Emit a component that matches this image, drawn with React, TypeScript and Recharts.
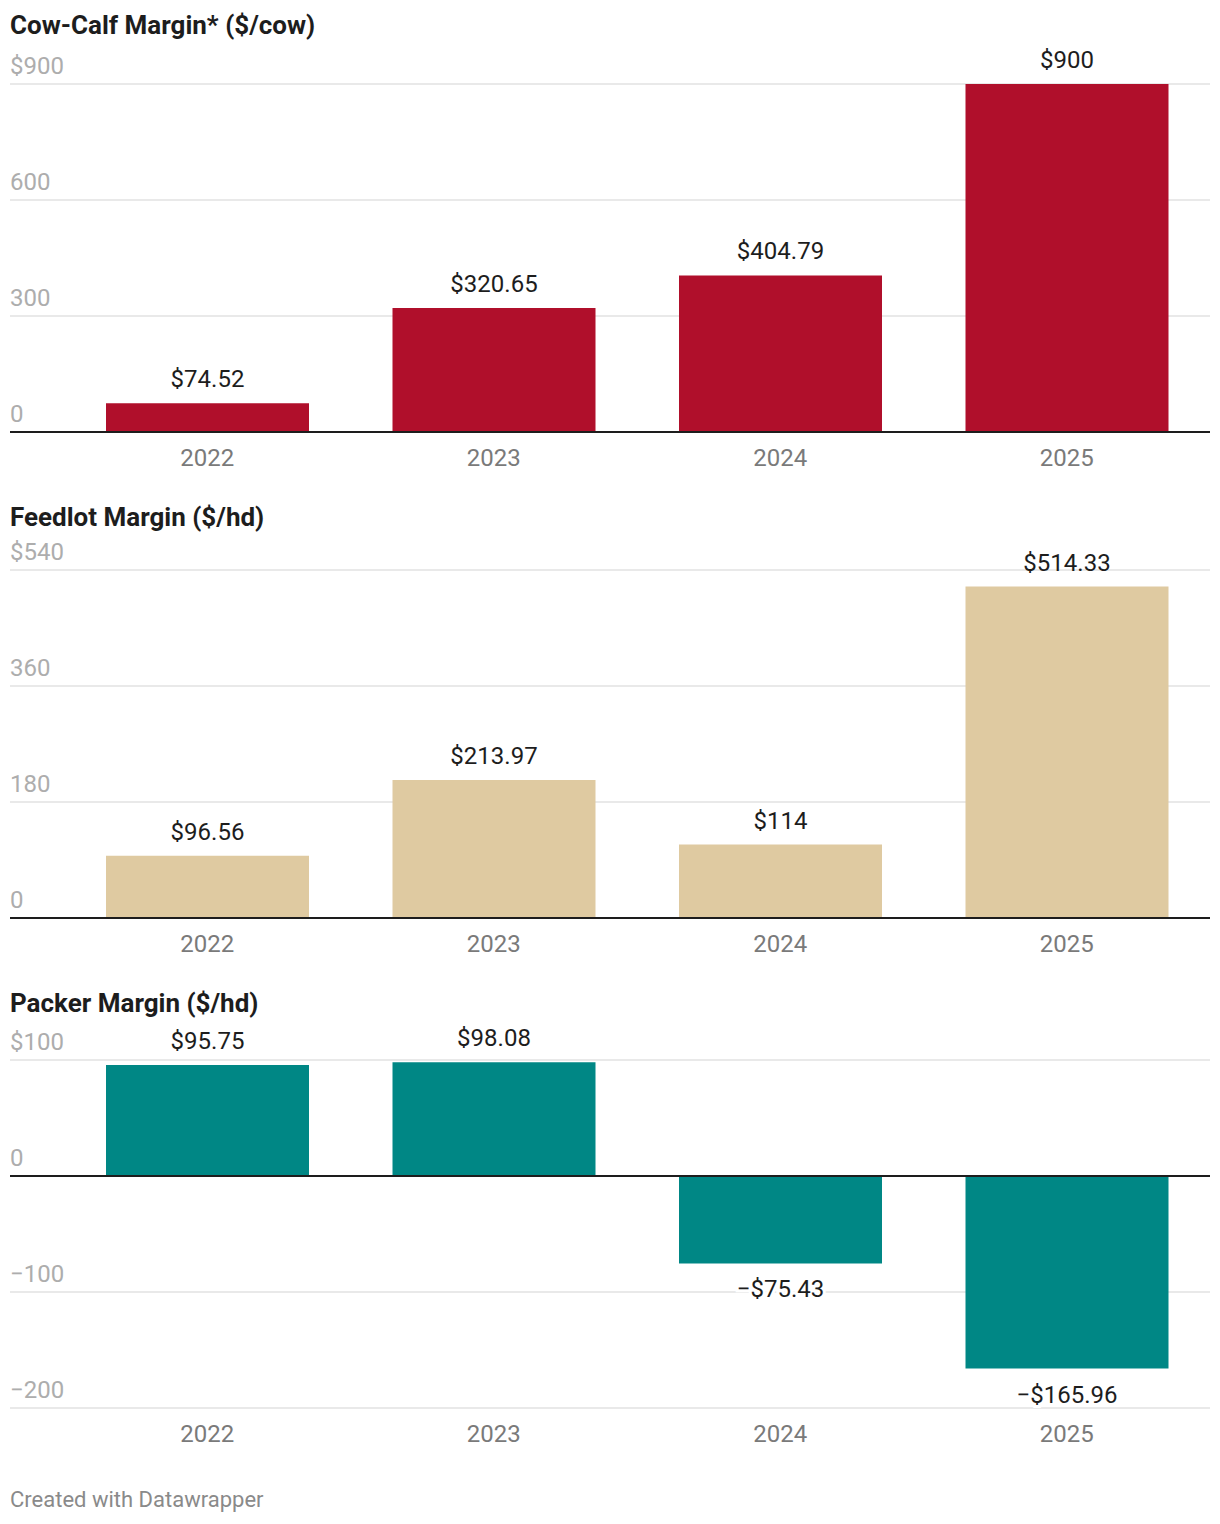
import { Bar, BarChart, CartesianGrid, LabelList, ReferenceLine, XAxis, YAxis } from "recharts";

const years = ["2022", "2023", "2024", "2025"];
const cowCalf = [74.52, 320.65, 404.79, 900];
const feedlot = [96.56, 213.97, 114, 514.33];
const packer = [95.75, 98.08, -75.43, -165.96];

const cowCalfTicks = [0, 300, 600, 900];
const feedlotTicks = [0, 180, 360, 540];
const packerTicks = [-200, -100, 0, 100];

const font = "Roboto, sans-serif";

const fmtMoney = (v: number) => (v < 0 ? "\u2212" : "") + "$" + String(Math.abs(v));
const fmtTick = (top: number) => (v: number) =>
  (v < 0 ? "\u2212" : "") + (v === top ? "$" : "") + String(Math.abs(v));

function XTick(props: any) {
  const { x, y, payload } = props;
  return (
    <text x={x} y={y + 26} textAnchor="middle" fontSize={24} fill="#7a7a7a" fontFamily={font}>
      {payload.value}
    </text>
  );
}

function ValueLabel(props: any) {
  const { x, y, width, height, value } = props;
  const top = Math.min(y, y + height);
  const bottom = Math.max(y, y + height);
  const neg = value < 0;
  return (
    <text
      x={x + width / 2}
      y={neg ? bottom + 34 : top - 16}
      textAnchor="middle"
      fontSize={24}
      fill="#1d1d1d"
      fontFamily={font}
      stroke="#fff"
      strokeWidth={neg ? 6 : 0}
      paintOrder="stroke"
    >
      {fmtMoney(value)}
    </text>
  );
}

function Panel({ title, values, ticks, color, top, titleTop }: any) {
  const data = years.map((year, i) => ({ year, value: values[i] }));
  const fmt = fmtTick(ticks[ticks.length - 1]);
  return (
    <>
      <div
        style={{
          position: "absolute",
          left: 10,
          top: titleTop,
          fontSize: 26,
          fontWeight: 700,
          color: "#1d1d1d",
          lineHeight: "30px",
          fontFamily: font,
        }}
      >
        {title}
      </div>
      <div style={{ position: "absolute", left: 0, top }}>
        <BarChart width={1220} height={480} data={data} margin={{ top: 84, right: 10, bottom: 0, left: 9 }}>
          <CartesianGrid vertical={false} stroke="#e2e2e2" strokeWidth={1.5} />
          <XAxis
            dataKey="year"
            height={48}
            axisLine={false}
            tickLine={false}
            padding={{ left: 54, right: 0 }}
            tick={<XTick />}
            interval={0}
          />
          <YAxis
            width={1}
            domain={[ticks[0], ticks[ticks.length - 1]]}
            ticks={ticks}
            axisLine={false}
            tickLine={false}
            interval={0}
            tick={(p: any) => (
              <text x={10} y={p.y - 10} textAnchor="start" fontSize={24} fill="#adadad" fontFamily={font}>
                {fmt(p.payload.value)}
              </text>
            )}
            allowDataOverflow
          />
          <Bar dataKey="value" fill={color} barSize={203} isAnimationActive={false}>
            <LabelList dataKey="value" content={<ValueLabel />} />
          </Bar>
          <ReferenceLine y={0} stroke="#1d1d1d" strokeWidth={2} />
        </BarChart>
      </div>
    </>
  );
}

export default function App() {
  return (
    <div
      style={{
        position: "absolute",
        left: 0,
        top: 0,
        width: 1220,
        height: 1524,
        background: "#fff",
        fontFamily: font,
      }}
    >
      <Panel title="Cow-Calf Margin* ($/cow)" values={cowCalf} ticks={cowCalfTicks} color="#b00f2b" top={0} titleTop={10} />
      <Panel title="Feedlot Margin ($/hd)" values={feedlot} ticks={feedlotTicks} color="#dfcaa1" top={486} titleTop={502} />
      <Panel title="Packer Margin ($/hd)" values={packer} ticks={packerTicks} color="#008785" top={976} titleTop={988} />
      <div
        style={{
          position: "absolute",
          left: 10,
          top: 1487,
          fontSize: 22,
          color: "#8a8a8a",
          lineHeight: "26px",
          fontFamily: font,
        }}
      >
        Created with Datawrapper
      </div>
    </div>
  );
}
